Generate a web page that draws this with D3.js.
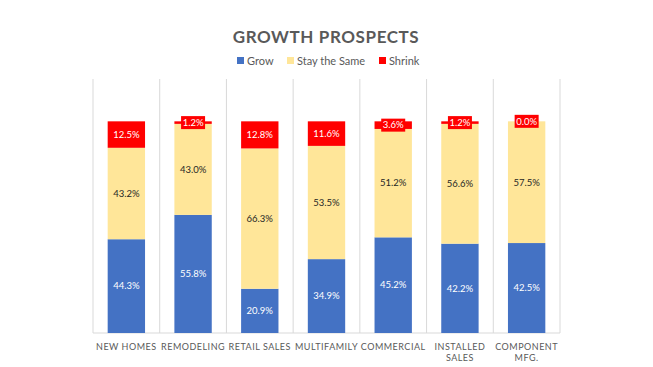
<!DOCTYPE html>
<html><head><meta charset="utf-8">
<script src="https://cdn.jsdelivr.net/npm/d3@7"></script>
<style>body{margin:0;background:#fff;}svg{display:block;}</style>
</head><body>
<svg id="c" width="653" height="367"></svg>
<script>
const categories = ["NEW HOMES","REMODELING","RETAIL SALES","MULTIFAMILY","COMMERCIAL","INSTALLED SALES","COMPONENT MFG."];
const categoryLines = [["NEW HOMES"],["REMODELING"],["RETAIL SALES"],["MULTIFAMILY"],["COMMERCIAL"],["INSTALLED","SALES"],["COMPONENT","MFG."]];
const grow = [44.3,55.8,20.9,34.9,45.2,42.2,42.5];
const stay = [43.2,43.0,66.3,53.5,51.2,56.6,57.5];
const shrink = [12.5,1.2,12.8,11.6,3.6,1.2,0.0];
const seriesNames = ["Grow","Stay the Same","Shrink"];
const colors = ["#4472C4","#FFE699","#FF0000"];
const labelColors = ["#ffffff","#262626","#ffffff"];

const svg = d3.select("#c");
const font = "Lato, 'Open Sans', sans-serif";
const x = d3.scaleBand().domain(categories).range([93,560]).paddingInner(0.44).paddingOuter(0.22);
const y = d3.scaleLinear().domain([0,120]).range([333,79]);

// gridlines (vertical, between categories)
const bounds = d3.range(categories.length+1).map(i=>93 + i*(467/categories.length));
svg.append("g").selectAll("line").data(bounds).join("line")
  .attr("x1",d=>d).attr("x2",d=>d).attr("y1",y(120)).attr("y2",y(0))
  .attr("stroke","#D9D9D9").attr("stroke-width",1);
svg.append("line").attr("x1",93).attr("x2",560).attr("y1",y(0)).attr("y2",y(0))
  .attr("stroke","#D9D9D9").attr("stroke-width",1);

const data = categories.map((c,i)=>({cat:c, Grow:grow[i], "Stay the Same":stay[i], Shrink:shrink[i]}));
const stacked = d3.stack().keys(seriesNames)(data);

const gBars = svg.append("g");
stacked.forEach((s,si)=>{
  gBars.append("g").attr("fill",colors[si]).selectAll("rect").data(s).join("rect")
    .attr("x",d=>x(d.data.cat)).attr("width",x.bandwidth())
    .attr("y",d=>y(d[1])).attr("height",d=>Math.max(si===2&&d[1]-d[0]>0?2:0, y(d[0])-y(d[1])));
});

// labels
stacked.forEach((s,si)=>{
  s.forEach(d=>{
    const v = d[1]-d[0];
    const cx = x(d.data.cat)+x.bandwidth()/2;
    const cy = (y(d[0])+y(d[1]))/2;
    const txt = v.toFixed(1)+"%";
    if(si===2){
      const h = y(d[0])-y(d[1]);
      if(h<16){
        svg.append("rect").attr("x",cx-12).attr("y",cy-6.5).attr("width",24).attr("height",13).attr("fill",colors[2]);
      }
    }
    svg.append("text").attr("x",cx).attr("y",cy).attr("dy","0.35em")
      .attr("text-anchor","middle").attr("font-family",font).attr("font-size",9.5)
      .attr("fill",labelColors[si]).text(txt);
  });
});

// x axis labels
categoryLines.forEach((lines,i)=>{
  const cx = x(categories[i])+x.bandwidth()/2;
  const t = svg.append("text").attr("text-anchor","middle").attr("font-family",font)
    .attr("font-size",9).attr("letter-spacing","0.5px").attr("fill","#595959");
  lines.forEach((l,j)=>t.append("tspan").attr("x",cx).attr("y",350+j*11).text(l));
});

// title
svg.append("text").attr("x",326).attr("y",43).attr("text-anchor","middle")
  .attr("font-family",font).attr("font-weight","bold").attr("font-size",17)
  .attr("letter-spacing","0.6px").attr("fill","#595959").text("GROWTH PROSPECTS");

// legend
const legendX = [237,287,379];
seriesNames.forEach((n,i)=>{
  svg.append("rect").attr("x",legendX[i]).attr("y",57).attr("width",7).attr("height",7).attr("fill",colors[i]);
  svg.append("text").attr("x",legendX[i]+10).attr("y",64.5).attr("font-family",font)
    .attr("font-size",11).attr("fill","#595959").text(n);
});
</script>
</body></html>
